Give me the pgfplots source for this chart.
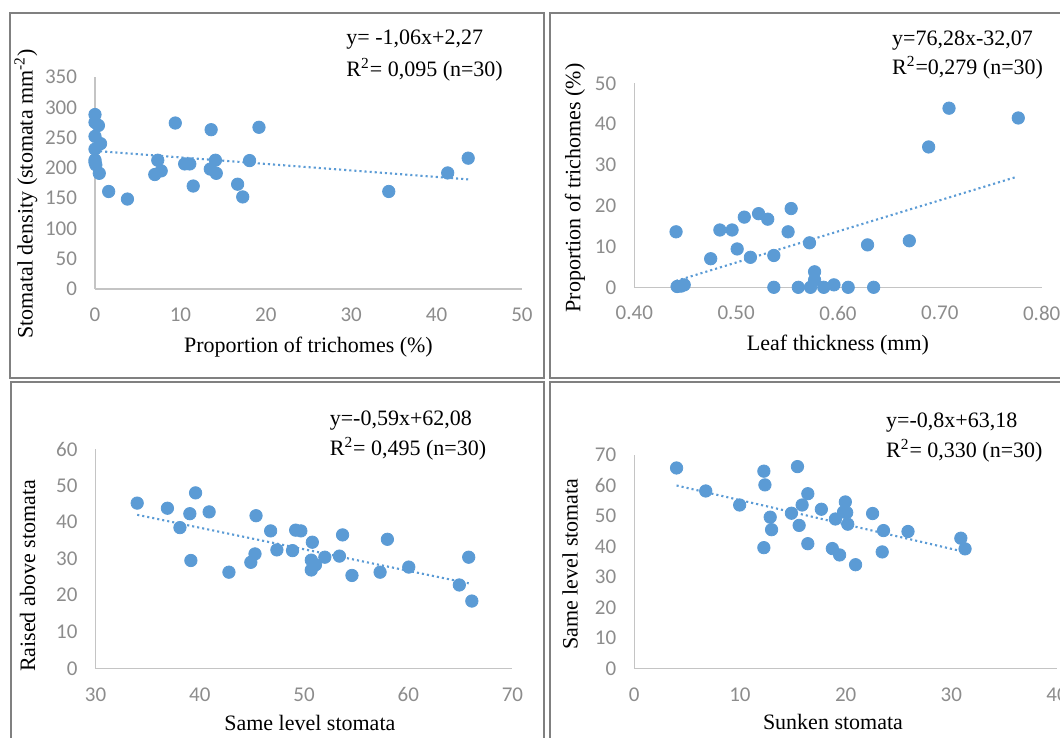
\documentclass[border=0pt]{standalone}
\usepackage{fontspec}
\setmainfont{Liberation Serif}
\newfontfamily\calibri{Carlito}
\usepackage{pgfplots}
\pgfplotsset{compat=1.18}
\definecolor{xlblue}{HTML}{5B9BD5}
\definecolor{tickgray}{HTML}{8C8C8C}
\definecolor{axgray}{HTML}{C4C4C4}
\definecolor{boxgray}{HTML}{808080}

\pgfplotsset{
  panel/.style={
    scale only axis,
    anchor=south west,
    axis lines=left,
    axis line style={-, draw=axgray, line width=0.8pt},
    major tick length=0pt,
    tick style={draw=none},
    ticklabel style={font=\calibri\fontsize{10.5}{12}\selectfont, text=tickgray},
    /pgf/number format/assume math mode=true,
    xticklabel shift=6pt,
    yticklabel shift=5.5pt,
    label style={font=\fontsize{11}{13}\selectfont},
    xlabel style={anchor=center},
    ylabel style={anchor=center},
    clip=false,
  },
  dots/.style={only marks, mark=*, mark size=3.1pt,
    mark options={draw=xlblue, fill=xlblue}},
  trend/.style={xlblue, line width=1.05pt, dash pattern=on 1.05pt off 1.5pt},
}
\tikzset{eq/.style={anchor=west, font=\fontsize{11}{13}\selectfont, inner sep=0pt}}

\begin{document}
\begin{tikzpicture}
\useasboundingbox (0,0) rectangle (530pt,-369pt);
\clip (0,0) rectangle (530pt,-369pt);

% panel frames (1px = 0.5pt)
\begin{scope}[x=0.5pt, y=-0.5pt]
  \draw[boxgray, line width=0.9pt] (10,13) rectangle (544,378);
  \draw[boxgray, line width=0.9pt] (550,13) rectangle (1080,378);
  \draw[boxgray, line width=0.9pt] (11,382) rectangle (544,760);
  \draw[boxgray, line width=0.9pt] (550,382) rectangle (1080,760);
\end{scope}

%% top left: stomatal density vs trichomes
\begin{axis}[panel,
  at={(47.5pt,-144.5pt)}, width=213.5pt, height=106pt,
  xmin=0, xmax=50, ymin=0, ymax=350,
  xtick={0,10,20,30,40,50}, ytick={0,50,100,150,200,250,300,350},
  xlabel={Proportion of trichomes (\%)},
  ylabel={Stomatal density (stomata mm\textsuperscript{-2})},
  xlabel style={at={(axis description cs:0.5,-0.272)}},
  ylabel style={at={(axis description cs:-0.1616,0.448)}},
]
\addplot[dots] coordinates {
  (0,288)(0,275)(0.4,270)(0,252)(0.65,240)(0,231)(0,213)(0,209)(0.1,205)(0.5,191)
  (1.6,161)(3.8,148.5)(7.0,189)(7.35,212.6)(7.75,195)(9.4,274)(10.5,206.5)
  (11.1,206.5)(11.5,170)(13.6,263)(13.5,198)(14.1,212.6)(14.2,191)(16.7,173)
  (17.3,152)(18.1,212)(19.2,267)(34.4,161)(41.3,191.6)(43.7,216)
};
\addplot[trend] coordinates {(0,228)(43.7,181)};
\node[eq] at (axis description cs:0.588,1.175) {y= -1,06x+2,27};
\node[eq] at (axis description cs:0.588,1.033) {R\textsuperscript{2}= 0,095 (n=30)};
\end{axis}

%% top right: trichomes vs leaf thickness
\begin{axis}[panel,
  at={(317.15pt,-143.65pt)}, width=203.7pt, height=102pt,
  xmin=0.4, xmax=0.8, ymin=0, ymax=50,
  xtick={0.4,0.5,0.6,0.7,0.8}, xticklabels={0.40,0.50,0.60,0.70,0.80},
  ytick={0,10,20,30,40,50},
  xlabel={Leaf thickness (mm)},
  ylabel={Proportion of trichomes (\%)},
  xlabel style={at={(axis description cs:0.5,-0.283)}},
  ylabel style={at={(axis description cs:-0.1456,0.487)}},
]
\addplot[dots] coordinates {
  (0.441,13.6)(0.442,0.2)(0.446,0.3)(0.449,0.6)(0.475,7.0)(0.484,14.05)
  (0.496,14.05)(0.501,9.4)(0.508,17.2)(0.514,7.35)(0.522,18.05)(0.531,16.7)
  (0.537,7.8)(0.537,0)(0.551,13.6)(0.554,19.3)(0.561,0)(0.572,10.9)(0.573,0)
  (0.577,3.8)(0.577,1.8)(0.586,0)(0.596,0.6)(0.610,0)(0.629,10.4)(0.635,0)
  (0.670,11.4)(0.689,34.4)(0.709,43.9)(0.777,41.5)
};
\addplot[trend] coordinates {(0.441,1.57)(0.774,26.97)};
\node[eq] at (axis description cs:0.632,1.209) {y=76,28x-32,07};
\node[eq] at (axis description cs:0.632,1.074) {R\textsuperscript{2}=0,279 (n=30)};
\end{axis}

%% bottom left: raised vs same level
\begin{axis}[panel,
  at={(47.75pt,-334.15pt)}, width=208.5pt, height=109.65pt,
  xmin=30, xmax=70, ymin=0, ymax=60,
  xtick={30,40,50,60,70}, ytick={0,10,20,30,40,50,60},
  xlabel={Same level stomata},
  ylabel={Raised above stomata},
  xlabel style={at={(axis description cs:0.514,-0.249)}},
  ylabel style={at={(axis description cs:-0.1626,0.421)}},
]
\addplot[dots] coordinates {
  (34.0,45.2)(36.9,43.8)(38.1,38.5)(39.05,42.3)(39.15,29.5)(39.6,48.0)
  (40.9,42.8)(42.8,26.3)(44.9,29.0)(45.3,31.3)(45.4,41.75)(46.8,37.6)
  (47.4,32.4)(48.9,32.2)(49.2,37.8)(49.7,37.6)(50.8,34.5)(50.7,29.6)
  (50.7,26.9)(51.1,28.3)(52.0,30.4)(53.4,30.7)(53.7,36.5)(54.6,25.4)
  (57.3,26.3)(58.0,35.3)(60.05,27.7)(64.9,22.8)(65.8,30.4)(66.1,18.4)
};
\addplot[trend] coordinates {(34,42.0)(65.8,23.26)};
\node[eq] at (axis description cs:0.561,1.132) {y=-0,59x+62,08};
\node[eq] at (axis description cs:0.561,1.003) {R\textsuperscript{2}= 0,495 (n=30)};
\end{axis}

%% bottom right: same level vs sunken
\begin{axis}[panel,
  at={(317.15pt,-334.15pt)}, width=211.35pt, height=106.65pt,
  xmin=0, xmax=40, ymin=0, ymax=70,
  xtick={0,10,20,30,40}, ytick={0,10,20,30,40,50,60,70},
  xlabel={Sunken stomata},
  ylabel={Same level stomata},
  xlabel style={at={(axis description cs:0.47,-0.25)}},
  ylabel style={at={(axis description cs:-0.152,0.489)}},
]
\addplot[dots] coordinates {
  (4.0,65.75)(6.76,58.2)(9.97,53.6)(12.26,64.7)(12.36,60.2)(12.26,39.6)
  (12.86,49.6)(12.99,45.5)(14.87,50.9)(15.44,66.2)(15.6,46.9)(15.88,53.6)
  (16.42,57.3)(16.42,40.9)(17.7,52.2)(18.74,39.3)(19.03,49.0)(19.43,37.2)
  (19.97,54.6)(20.1,51.1)(19.8,51.3)(20.2,47.3)(20.94,34.0)(22.55,50.8)
  (23.46,38.2)(23.58,45.2)(25.9,44.9)(30.9,42.7)(31.3,39.2)
};
\addplot[trend] coordinates {(4,60.0)(30.9,38.5)};
\node[eq] at (axis description cs:0.595,1.153) {y=-0,8x+63,18};
\node[eq] at (axis description cs:0.595,1.019) {R\textsuperscript{2}= 0,330 (n=30)};
\end{axis}
\end{tikzpicture}
\end{document}
